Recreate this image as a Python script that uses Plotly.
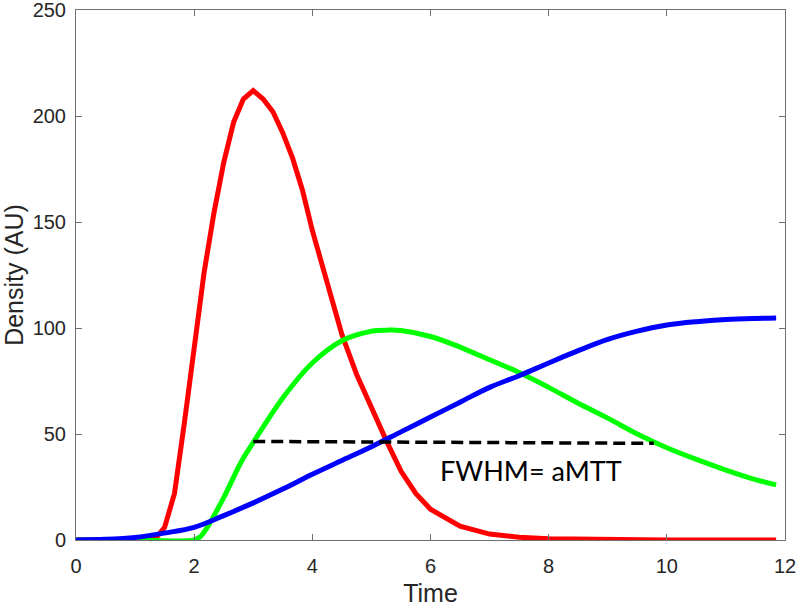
import plotly.graph_objects as go

# time samples and curve values
t_red = [0, 1.0, 1.333, 1.5, 1.667, 1.833, 2.0, 2.167, 2.333, 2.5, 2.667, 2.833,
         3.0, 3.167, 3.333, 3.5, 3.667, 3.833, 4.0, 4.25, 4.5, 4.75, 5.0, 5.25,
         5.5, 5.75, 6.0, 6.5, 7.0, 7.5, 8.0, 9.0, 10.0, 11.0, 11.85]
red = [0, 0, 0.3, 6, 22, 55, 91, 126, 154, 178, 197, 208,
       212, 208, 202, 192, 180, 165, 146, 121, 97, 78, 62, 47,
       32.5, 22, 14.5, 6.5, 2.8, 1.3, 0.6, 0.1, 0, 0, 0]

t_green = [0, 1.0, 2.0, 2.1, 2.2, 2.5, 2.8, 3.0, 3.5, 4.0, 4.5, 5.0, 5.3, 5.5,
           6.0, 6.5, 7.0, 7.5, 8.0, 8.5, 9.0, 9.5, 10.0, 10.5, 11.0, 11.5, 11.85]
green = [0, 0, 0, 1.5, 5, 20, 37, 46, 67, 83.5, 94, 98.5, 99, 98.8,
         96, 91, 85, 79, 72, 64.5, 57.5, 50, 43.5, 38, 33, 28.5, 26]

t_blue = [0, 0.5, 1.0, 1.5, 2.0, 2.5, 3.0, 3.5, 4.0, 4.5, 5.0, 5.5, 6.0, 6.5,
          7.0, 7.5, 8.0, 8.5, 9.0, 9.5, 10.0, 10.5, 11.0, 11.5, 11.85]
blue = [0, 0.3, 1.2, 3.3, 6, 11.5, 17.5, 24, 31, 37.5, 44, 51, 58, 65,
        72, 77.5, 83.5, 89.3, 94.6, 98.5, 101.4, 103, 104, 104.5, 104.7]

# half-maximum marker
fwhm_t = [3.0, 9.78]
fwhm_y = [46.5, 45.6]
fwhm_label = "FWHM= aMTT"

fig = go.Figure()
fig.add_trace(go.Scatter(x=t_red, y=red, mode="lines",
                         line=dict(color="#ff0000", width=5)))
fig.add_trace(go.Scatter(x=t_green, y=green, mode="lines", line_shape="spline",
                         line=dict(color="#00ff00", width=5)))
fig.add_trace(go.Scatter(x=t_blue, y=blue, mode="lines", line_shape="spline",
                         line=dict(color="#0000ff", width=5)))
fig.add_trace(go.Scatter(x=fwhm_t, y=fwhm_y, mode="lines",
                         line=dict(color="black", width=3.5, dash="12px,6px")))

fig.add_annotation(x=6.12, y=33, text=fwhm_label, showarrow=False,
                   xanchor="left", yanchor="middle",
                   font=dict(family="Lato", size=27, color="black"))

axis_style = dict(
    showline=True, linecolor="#707070", linewidth=1, mirror="allticks",
    ticks="inside", ticklen=6, tickcolor="#707070",
    showgrid=False, zeroline=False, automargin=False,
    ticklabeloverflow="allow",
    tickfont=dict(family="Liberation Sans", size=20, color="#262626"),
)
title_font = dict(family="Liberation Sans", size=25, color="#262626")

fig.update_layout(
    width=800, height=608,
    margin=dict(l=76, r=15, t=10, b=68),
    plot_bgcolor="white", paper_bgcolor="white",
    showlegend=False,
    xaxis=dict(range=[0, 12], tickvals=[0, 2, 4, 6, 8, 10, 12],
               ticklabelstandoff=8,
               title=dict(text="Time", standoff=8, font=title_font),
               **axis_style),
    yaxis=dict(range=[0, 250], tickvals=[0, 50, 100, 150, 200, 250],
               ticklabelstandoff=5,
               title=dict(text="Density (AU)", standoff=10, font=title_font),
               **axis_style),
)

# drop the page's default body margin so the figure sits at the window corner
fig.write_html("out.html", config={"displayModeBar": False},
               post_script="document.body.style.margin='0';")
